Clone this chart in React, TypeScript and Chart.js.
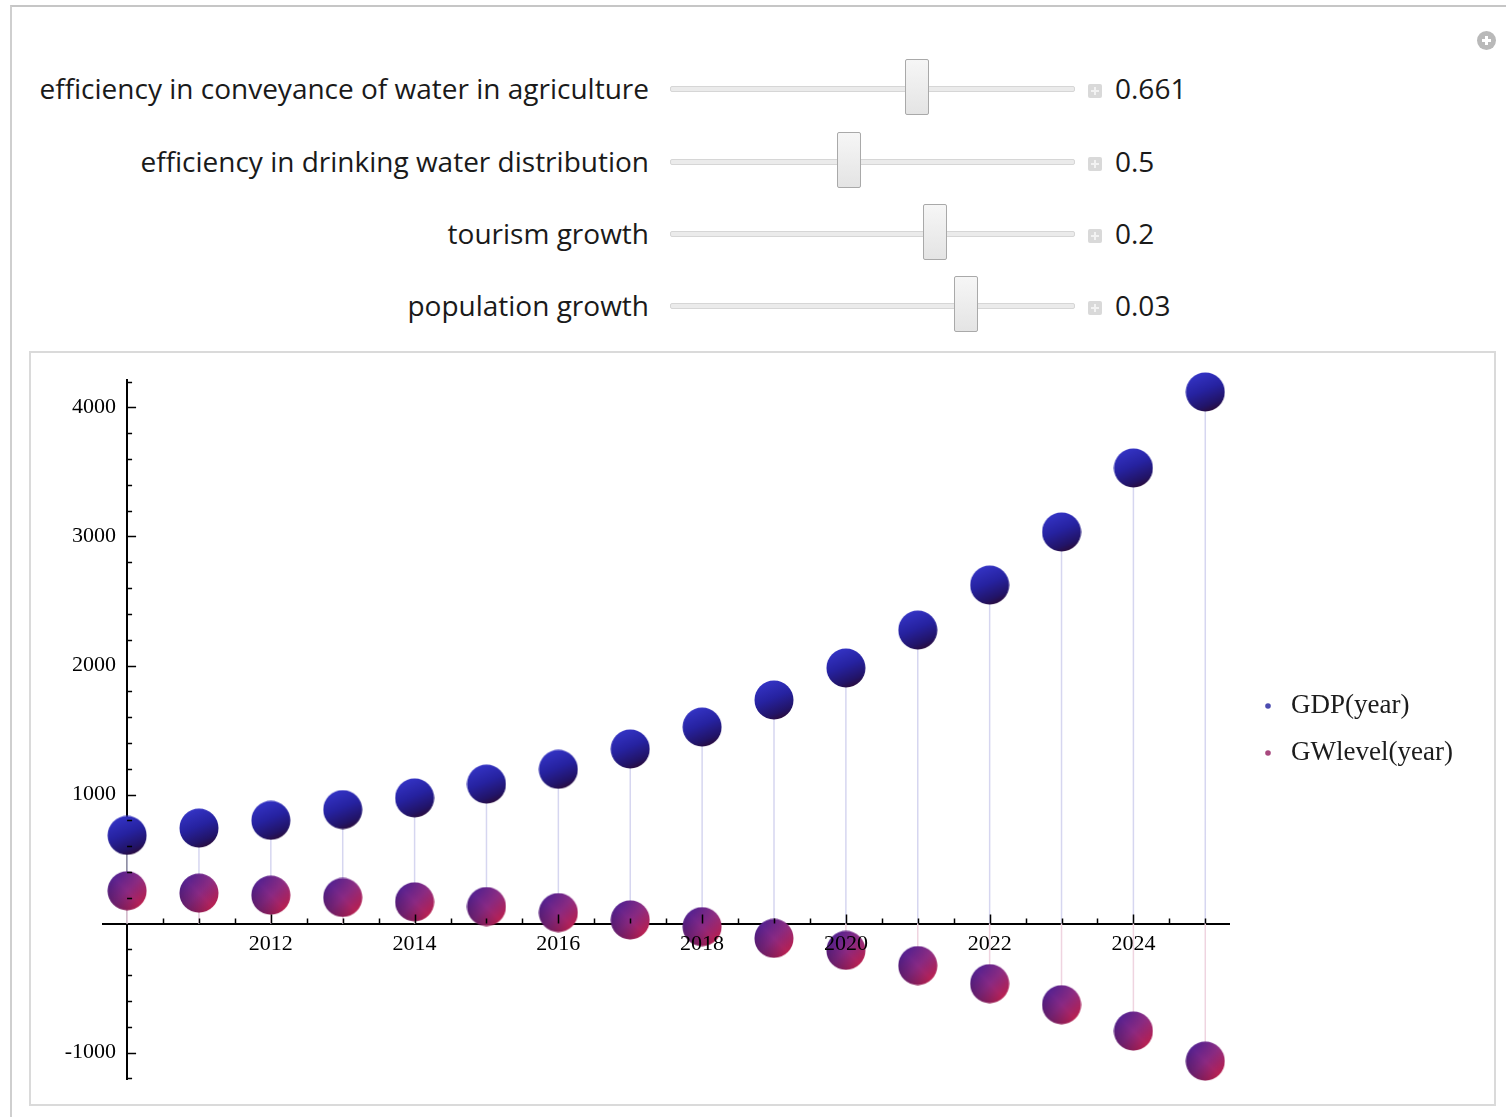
import { useEffect, useRef } from "react";
import { Chart, registerables } from "chart.js";

Chart.register(...registerables);

// ---- chart data ----
const years = [2010, 2011, 2012, 2013, 2014, 2015, 2016, 2017, 2018, 2019, 2020, 2021, 2022, 2023, 2024, 2025];
const gdp = [683, 740, 800, 883, 974, 1081, 1195, 1353, 1523, 1733, 1981, 2275, 2624, 3035, 3531, 4120];
const gwLevel = [254, 236, 220, 202, 168, 132, 85, 28, -24, -115, -208, -326, -466, -629, -833, -1066];
const seriesLabels = ["GDP(year)", "GWlevel(year)"];

const xLabelYears = [2012, 2014, 2016, 2018, 2020, 2022, 2024];
const yLabelValues = [-1000, 1000, 2000, 3000, 4000];
const xOrigin = 2010;
const xMinorStep = 0.5;
const yMinorStep = 200;

// ---- control panel ----
const sliderLabels = [
  "efficiency in conveyance of water in agriculture",
  "efficiency in drinking water distribution",
  "tourism growth",
  "population growth",
];
const sliderValues = ["0.661", "0.5", "0.2", "0.03"];
const sliderFractions = [0.61, 0.442, 0.654, 0.731];

const SANS = '"Open Sans", "Noto Sans", sans-serif';
const SERIF = '"Liberation Serif", "DejaVu Serif", serif';

const DROP_COLORS = ["#d6d6f0", "#efd4e0"];
const LEGEND_DOT_COLORS = ["#4c4cb0", "#a8487e"];

function makeBall(kind: "gdp" | "gw"): HTMLCanvasElement {
  const r = 20;
  const c = document.createElement("canvas");
  c.width = r * 2;
  c.height = r * 2;
  const ctx = c.getContext("2d")!;
  ctx.beginPath();
  ctx.arc(r, r, r - 0.5, 0, Math.PI * 2);
  ctx.closePath();
  ctx.save();
  ctx.clip();
  if (kind === "gdp") {
    const g = ctx.createLinearGradient(r * 0.6, 0, r * 1.4, r * 2);
    g.addColorStop(0, "#3535c8");
    g.addColorStop(0.45, "#2622a0");
    g.addColorStop(0.8, "#221468");
    g.addColorStop(1, "#2c0a34");
    ctx.fillStyle = g;
    ctx.fillRect(0, 0, r * 2, r * 2);
  } else {
    const g = ctx.createLinearGradient(0, 0, r * 2, r * 2);
    g.addColorStop(0, "#3e1e98");
    g.addColorStop(0.5, "#8a2a84");
    g.addColorStop(1, "#d01c3a");
    ctx.fillStyle = g;
    ctx.fillRect(0, 0, r * 2, r * 2);
    const d = ctx.createLinearGradient(0, r * 2, r * 2, 0);
    d.addColorStop(0, "rgba(30,5,50,0.45)");
    d.addColorStop(0.5, "rgba(30,5,50,0)");
    d.addColorStop(1, "rgba(255,120,170,0.15)");
    ctx.fillStyle = d;
    ctx.fillRect(0, 0, r * 2, r * 2);
  }
  ctx.restore();
  return c;
}

const dropLinesPlugin = {
  id: "dropLines",
  beforeDatasetsDraw(chart: any) {
    const { ctx, chartArea, scales } = chart;
    const y0 = scales.y.getPixelForValue(0);
    ctx.save();
    ctx.beginPath();
    ctx.rect(chartArea.left, chartArea.top, chartArea.right - chartArea.left, chartArea.bottom - chartArea.top);
    ctx.clip();
    ctx.lineWidth = 1.5;
    chart.data.datasets.forEach((_ds: any, i: number) => {
      const meta = chart.getDatasetMeta(i);
      ctx.strokeStyle = DROP_COLORS[i];
      ctx.beginPath();
      meta.data.forEach((pt: any) => {
        ctx.moveTo(pt.x, pt.y);
        ctx.lineTo(pt.x, y0);
      });
      ctx.stroke();
    });
    ctx.restore();
  },
};

const axisTicksPlugin = {
  id: "axisTicks",
  afterDraw(chart: any) {
    const { ctx, scales } = chart;
    const { x, y } = scales;
    const y0 = y.getPixelForValue(0);
    const x0 = x.getPixelForValue(xOrigin);
    ctx.save();
    ctx.strokeStyle = "#000";
    ctx.lineWidth = 1.5;
    ctx.beginPath();
    x.ticks.forEach((t: any) => {
      if (t.value === xOrigin) return;
      const px = Math.round(x.getPixelForValue(t.value)) + 0.5;
      const len = xLabelYears.includes(t.value) ? 9 : 5;
      ctx.moveTo(px, y0);
      ctx.lineTo(px, y0 - len);
    });
    y.ticks.forEach((t: any) => {
      if (t.value === 0) return;
      const py = Math.round(y.getPixelForValue(t.value)) + 0.5;
      const len = t.value % 1000 === 0 ? 9 : 5;
      ctx.moveTo(x0, py);
      ctx.lineTo(x0 + len, py);
    });
    ctx.stroke();
    ctx.restore();
  },
};

const sideLegendPlugin = {
  id: "sideLegend",
  afterDraw(chart: any) {
    const { ctx, chartArea } = chart;
    const cy = (chartArea.top + chartArea.bottom) / 2;
    const gap = 47;
    ctx.save();
    ctx.font = `27px ${SERIF}`;
    ctx.textBaseline = "middle";
    chart.data.datasets.forEach((ds: any, i: number) => {
      const yy = cy + (i - 0.5) * gap;
      const dx = chartArea.right + 39;
      ctx.fillStyle = LEGEND_DOT_COLORS[i];
      ctx.beginPath();
      ctx.arc(dx, yy, 2.8, 0, Math.PI * 2);
      ctx.fill();
      ctx.fillStyle = "#1c1c1c";
      ctx.fillText(ds.label, chartArea.right + 62, yy);
    });
    ctx.restore();
  },
};

function PlotCanvas() {
  const canvasRef = useRef<HTMLCanvasElement>(null);
  const chartRef = useRef<Chart | null>(null);

  useEffect(() => {
    if (!canvasRef.current) return;
    if (chartRef.current) chartRef.current.destroy();

    const gdpBall = makeBall("gdp");
    const gwBall = makeBall("gw");

    const xTicks: number[] = [];
    for (let v = xOrigin; v <= years[years.length - 1]; v += xMinorStep) xTicks.push(v);
    const yTicks: number[] = [];
    for (let v = -1200; v <= 4200; v += yMinorStep) yTicks.push(v);

    chartRef.current = new Chart(canvasRef.current, {
      type: "scatter",
      data: {
        datasets: [
          {
            label: seriesLabels[0],
            data: years.map((yr, i) => ({ x: yr, y: gdp[i] })),
            pointStyle: gdpBall,
            pointRadius: 20,
            borderColor: DROP_COLORS[0],
            backgroundColor: LEGEND_DOT_COLORS[0],
            clip: false,
          },
          {
            label: seriesLabels[1],
            data: years.map((yr, i) => ({ x: yr, y: gwLevel[i] })),
            pointStyle: gwBall,
            pointRadius: 20,
            borderColor: DROP_COLORS[1],
            backgroundColor: LEGEND_DOT_COLORS[1],
            clip: false,
          },
        ],
      },
      options: {
        animation: false,
        responsive: false,
        events: [],
        layout: { padding: { left: 72, right: 265, top: 27, bottom: 25 } },
        plugins: {
          legend: { display: false },
          tooltip: { enabled: false },
        },
        scales: {
          x: {
            type: "linear",
            min: 2009.665,
            max: 2025.33,
            position: { y: 0 } as any,
            grid: { display: false, drawTicks: false },
            border: { display: true, color: "#000", width: 2 },
            afterBuildTicks: (axis: any) => {
              axis.ticks = xTicks.map((v) => ({ value: v }));
            },
            ticks: {
              z: 1,
              autoSkip: false,
              maxRotation: 0,
              padding: 7,
              color: "#000",
              font: { family: SERIF, size: 22 },
              callback: (v: any) => (xLabelYears.includes(Number(v)) ? String(v) : ""),
            },
          },
          y: {
            type: "linear",
            min: -1205,
            max: 4213,
            position: { x: xOrigin } as any,
            grid: { display: false, drawTicks: false },
            border: { display: true, color: "#000", width: 2 },
            afterBuildTicks: (axis: any) => {
              axis.ticks = yTicks.map((v) => ({ value: v }));
            },
            ticks: {
              z: 1,
              autoSkip: false,
              color: "#000",
              font: { family: SERIF, size: 22 },
              // en space keeps the label clear of the axis line
              callback: (v: any) => (yLabelValues.includes(Number(v)) ? String(v) + "\u2002" : ""),
            },
          },
        },
      },
      plugins: [dropLinesPlugin, axisTicksPlugin, sideLegendPlugin],
    } as any);

    return () => {
      if (chartRef.current) {
        chartRef.current.destroy();
        chartRef.current = null;
      }
    };
  }, []);

  return <canvas ref={canvasRef} width={1463} height={751} style={{ display: "block" }} />;
}

function SliderRow({ label, value, frac, trackY }: { label: string; value: string; frac: number; trackY: number }) {
  const trackLeft = 670;
  const trackWidth = 405;
  const thumbX = trackLeft + frac * trackWidth;
  const textTop = trackY - 15;
  return (
    <>
      <div
        style={{
          position: "absolute",
          right: 1506 - 649,
          top: textTop,
          fontSize: 28,
          lineHeight: "28px",
          whiteSpace: "nowrap",
          color: "#1a1a1a",
        }}
      >
        {label}
      </div>
      <div
        style={{
          position: "absolute",
          left: trackLeft,
          top: trackY - 3,
          width: trackWidth,
          height: 6,
          background: "#ebebeb",
          border: "1px solid #d6d6d6",
          boxSizing: "border-box",
          borderRadius: 2,
        }}
      />
      <div
        style={{
          position: "absolute",
          left: thumbX - 12,
          top: trackY - 30,
          width: 24,
          height: 56,
          background: "linear-gradient(#f6f6f6, #e4e4e4)",
          border: "1.5px solid #a9a9a9",
          boxSizing: "border-box",
          borderRadius: 2,
        }}
      />
      <div
        style={{
          position: "absolute",
          left: 1088,
          top: trackY - 5,
          width: 14,
          height: 14,
          background: "#d9d9d9",
          borderRadius: 2,
        }}
      >
        <div style={{ position: "absolute", left: 3, top: 6, width: 8, height: 2, background: "#f2f2f2" }} />
        <div style={{ position: "absolute", left: 6, top: 3, width: 2, height: 8, background: "#f2f2f2" }} />
      </div>
      <div
        style={{
          position: "absolute",
          left: 1115,
          top: textTop,
          fontSize: 28,
          lineHeight: "28px",
          whiteSpace: "nowrap",
          color: "#1a1a1a",
        }}
      >
        {value}
      </div>
    </>
  );
}

const trackRows = [89, 161.5, 233.5, 305.5];

export default function App() {
  return (
    <div
      style={{
        position: "absolute",
        left: 0,
        top: 0,
        width: 1506,
        height: 1117,
        overflow: "hidden",
        background: "#fff",
        fontFamily: SANS,
      }}
    >
      {/* outer panel frame */}
      <div
        style={{
          position: "absolute",
          left: 10,
          top: 5,
          width: 1600,
          height: 1200,
          borderTop: "2px solid #c6c6c6",
          borderLeft: "2px solid #cfcfcf",
        }}
      />
      {/* close button */}
      <div
        style={{
          position: "absolute",
          left: 1477,
          top: 31,
          width: 19,
          height: 19,
          borderRadius: "50%",
          background: "#b9b9b9",
        }}
      >
        <div style={{ position: "absolute", left: 5, top: 8, width: 9, height: 3, background: "#fff" }} />
        <div style={{ position: "absolute", left: 8, top: 5, width: 3, height: 9, background: "#fff" }} />
      </div>

      {sliderLabels.map((label, i) => (
        <SliderRow key={label} label={label} value={sliderValues[i]} frac={sliderFractions[i]} trackY={trackRows[i]} />
      ))}

      {/* plot frame */}
      <div
        style={{
          position: "absolute",
          left: 29,
          top: 351,
          width: 1467,
          height: 755,
          border: "2px solid #dadada",
          boxSizing: "border-box",
          background: "#fff",
        }}
      >
        <PlotCanvas />
      </div>
    </div>
  );
}
